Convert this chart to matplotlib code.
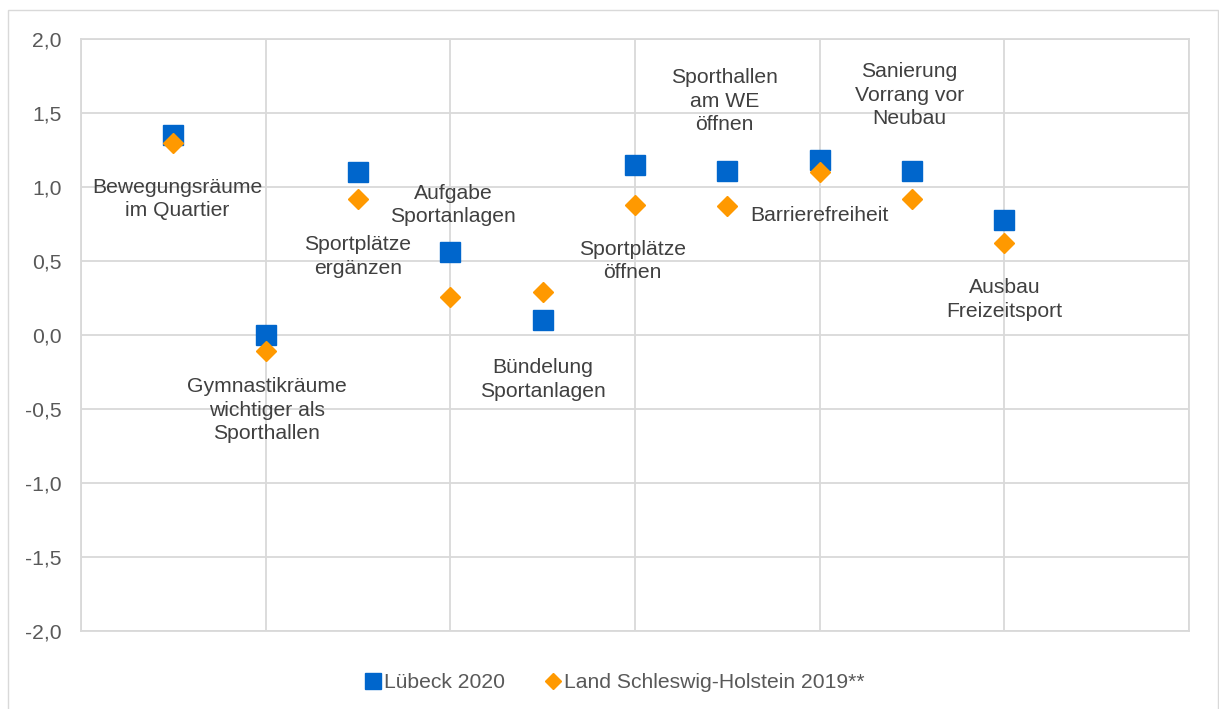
import matplotlib
matplotlib.use("Agg")
import matplotlib.pyplot as plt
from matplotlib.lines import Line2D
from matplotlib.patches import Rectangle
from matplotlib.ticker import FuncFormatter, MultipleLocator

plt.rcParams['font.family'] = ['Liberation Sans', 'DejaVu Sans']

# Statements (x positions 1..10)
positions = [1, 2, 3, 4, 5, 6, 7, 8, 9, 10]
labels = [
    "Bewegungsräume\nim Quartier",
    "Gymnastikräume\nwichtiger als\nSporthallen",
    "Sportplätze\nergänzen",
    "Aufgabe\nSportanlagen",
    "Bündelung\nSportanlagen",
    "Sportplätze\nöffnen",
    "Sporthallen\nam WE\nöffnen",
    "Barrierefreiheit",
    "Sanierung\nVorrang vor\nNeubau",
    "Ausbau\nFreizeitsport",
]
luebeck_2020 = [1.35, 0.00, 1.10, 0.56, 0.10, 1.15, 1.11, 1.18, 1.11, 0.78]
sh_2019 = [1.30, -0.11, 0.92, 0.26, 0.29, 0.88, 0.87, 1.10, 0.92, 0.62]
series_names = ["Lübeck 2020", "Land Schleswig-Holstein 2019**"]

# label anchor (data coords of text block centre)
label_x = [1.04, 2.01, 3.0, 4.03, 5.0, 5.97, 6.97, 8.0, 8.97, 10.0]
label_y = [0.92, -0.51, 0.53, 0.88, -0.30, 0.50, 1.58, 0.81, 1.62, 0.24]

BLUE = "#0066CC"
ORANGE = "#FF9900"
GRID = "#D9D9D9"
TEXT = "#404040"
TICK = "#595959"
FS = 15.2

fig = plt.figure(figsize=(12.19, 7.09), dpi=100)
# chart area border
fig.patches.append(Rectangle((8 / 1219, -0.05), 1210 / 1219, 1 - 10 / 709 + 0.05,
                             transform=fig.transFigure, fill=False,
                             edgecolor=GRID, linewidth=1.0))
ax = fig.add_axes([81 / 1219, 1 - 631 / 709, 1108 / 1219, 592 / 709])

ax.set_xlim(0, 12)
ax.set_ylim(-2.0, 2.0)
ax.xaxis.set_major_locator(MultipleLocator(2))
ax.yaxis.set_major_locator(MultipleLocator(0.5))
ax.yaxis.set_major_formatter(FuncFormatter(lambda v, p: f"{v:.1f}".replace(".", ",")))
ax.grid(True, color=GRID, linewidth=1.3)
ax.set_axisbelow(True)
ax.tick_params(axis='x', length=0, labelbottom=False)
ax.tick_params(axis='y', length=0, labelsize=FS, labelcolor=TICK, pad=14)
for s in ax.spines.values():
    s.set_color(GRID)
    s.set_linewidth(1.3)

ax.plot(positions, luebeck_2020, linestyle='none', marker='s', markersize=14.8,
        color=BLUE, zorder=3, clip_on=False)
ax.plot(positions, sh_2019, linestyle='none', marker='D', markersize=10.3,
        color=ORANGE, zorder=4, clip_on=False)

for x, y, t in zip(label_x, label_y, labels):
    ax.text(x, y, t, ha='center', va='center', fontsize=FS, color=TEXT,
            linespacing=1.3, zorder=5)

handles = [
    Line2D([], [], linestyle='none', marker='s', markersize=11, color=BLUE),
    Line2D([], [], linestyle='none', marker='D', markersize=8, color=ORANGE),
]
fig.legend(handles, series_names, loc='center', bbox_to_anchor=(0.505, 1 - 683 / 709),
           ncol=2, frameon=False, fontsize=FS, handlelength=0.6, handletextpad=0.2,
           columnspacing=2.0, labelcolor=TICK)

fig.savefig("out.png", dpi=100, facecolor="white")
